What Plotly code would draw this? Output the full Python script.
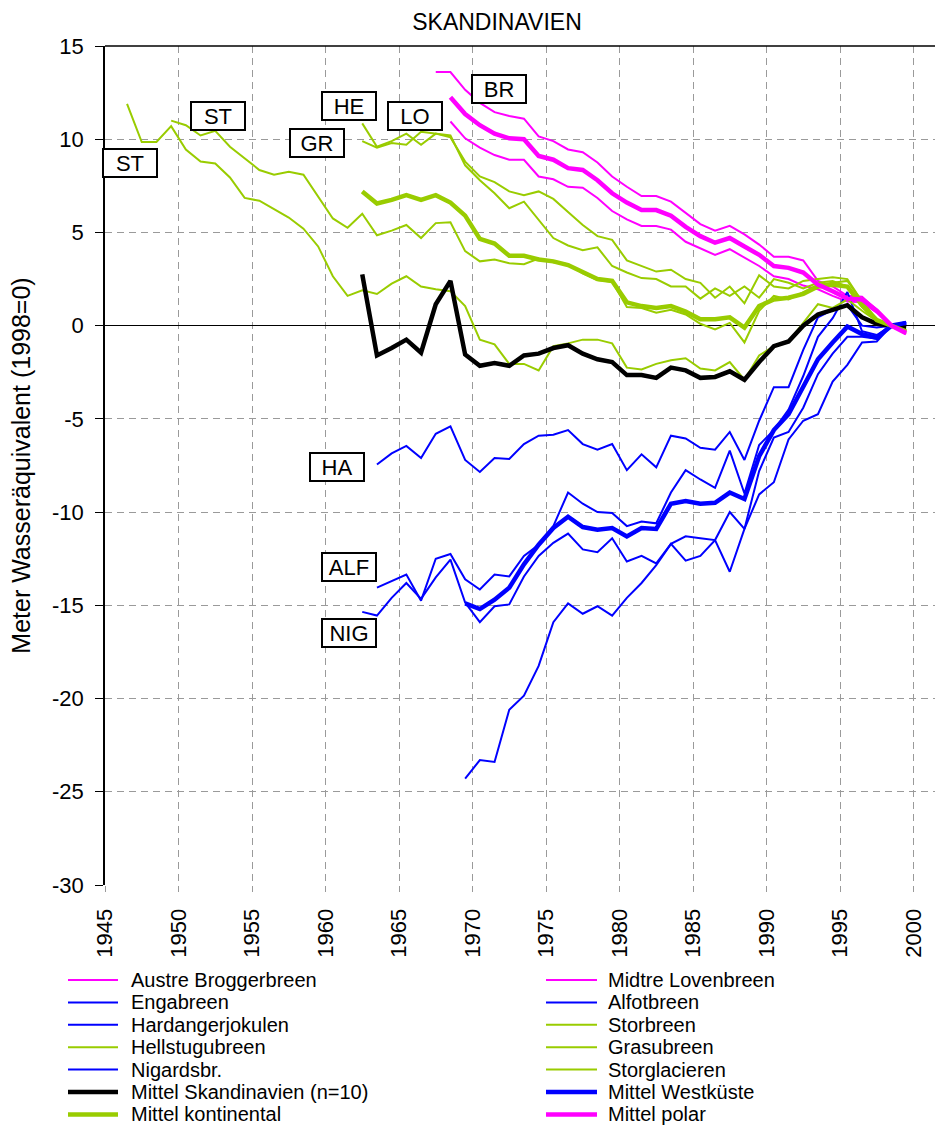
import plotly.graph_objects as go

# Cumulative mass balance of Scandinavian glaciers, metres water equivalent, 1998 = 0

# --- polar (Svalbard) ---
austre_start = 1967
austre = [13.6, 13.6, 12.65, 11.95, 11.45, 11.25, 11.1, 10.15, 9.9, 9.45, 9.3, 8.75,
          8.0, 7.45, 6.95, 6.95, 6.65, 6.05, 5.45, 5.1, 5.35, 4.9, 4.35, 3.7, 3.7, 3.5,
          2.4, 2.1, 1.6, 1.55, 0.85, 0, -0.3]

midtre_start = 1968
midtre = [10.95, 10.05, 9.55, 9.15, 8.9, 8.9, 8.0, 7.85, 7.45, 7.4, 6.85, 6.15, 5.7,
          5.35, 5.35, 5.15, 4.5, 4.15, 3.8, 4.1, 3.65, 3.2, 2.65, 2.5, 2.15, 1.95, 1.6,
          1.3, 1.25, 0.7, 0, -0.45]

# --- west coast (maritime Norway) ---
engabreen_start = 1969
engabreen = [-24.3, -23.3, -23.4, -20.6, -19.85, -18.25, -15.9, -14.9, -15.45, -15.05,
             -15.55, -14.6, -13.8, -12.85, -11.7, -11.3, -11.4, -11.5, -13.2, -10.9,
             -9.05, -8.4, -6.1, -5.1, -4.75, -3.0, -2.1, -0.9, -0.85, 0, 0.15]

alfotbreen_start = 1963
alfotbreen = [-14.05, -13.7, -13.35, -14.75, -12.5, -12.25, -13.6, -14.15, -13.35, -13.45,
              -12.35, -11.75, -10.75, -8.95, -9.55, -10.0, -10.05, -10.75, -10.5, -10.6,
              -8.95, -7.75, -8.25, -8.7, -6.7, -9.0, -6.4, -5.6, -4.5, -2.7, -0.6, 0.4,
              1.8, -0.3, -0.5, 0, 0.2]

hardanger_start = 1963
hardanger = [-7.45, -6.85, -6.45, -7.1, -5.8, -5.4, -7.2, -7.85, -7.1, -7.15, -6.35, -5.9,
             -5.85, -5.6, -6.35, -6.65, -6.35, -7.75, -6.9, -7.6, -5.9, -6.05, -6.55, -6.65,
             -5.7, -7.2, -5.1, -3.3, -3.3, -1.3, 0.45, 0.85, 1.1, 0.0, -0.1, 0, 0.2]

nigards_start = 1962
nigards = [-15.35, -15.55, -14.6, -13.8, -14.65, -13.5, -12.55, -14.85, -15.9, -15.05,
           -14.95, -13.45, -12.35, -11.65, -11.15, -12.0, -12.15, -11.4, -12.65, -12.35,
           -12.75, -11.7, -12.6, -12.35, -11.5, -10.0, -10.9, -7.8, -6.0, -5.7, -4.4,
           -2.6, -1.5, -0.6, -0.6, -0.7, 0, 0.1]

# --- continental ---
storbreen_start = 1949
storbreen = [11.0, 10.75, 10.2, 10.45, 9.6, 8.95, 8.35, 8.1, 8.25, 8.1, 6.95, 5.75, 5.25,
             6.0, 4.85, 5.1, 5.4, 4.7, 5.5, 5.55, 4.0, 3.45, 3.55, 3.35, 3.3, 3.6, 3.4,
             3.3, 2.8, 2.45, 2.35, 1.0, 0.95, 0.7, 0.85, 0.6, 0.1, -0.2, 0.15, -0.9, 0.8,
             1.6, 1.4, 1.8, 2.2, 2.3, 2.4, 1.3, 0.3, 0, -0.3]

hellstugubreen_start = 1962
hellstugubreen = [10.85, 9.6, 9.9, 10.3, 9.7, 10.3, 10.1, 8.8, 8.0, 7.7, 7.2, 7.0, 7.2,
                  6.8, 6.1, 5.4, 4.8, 4.6, 3.5, 3.2, 2.9, 3.0, 2.5, 2.3, 1.5, 2.1, 1.2,
                  2.7, 2.1, 2.0, 2.4, 2.5, 2.6, 2.5, 1.3, 0.35, 0, -0.3]

grasubreen_start = 1962
grasubreen = [9.9, 9.55, 9.8, 9.7, 10.4, 10.3, 10.2, 8.6, 7.8, 7.1, 6.3, 6.65, 5.7, 4.7,
              4.3, 4.05, 4.2, 3.2, 2.85, 2.55, 2.5, 2.1, 2.1, 1.45, 2.0, 1.6, 2.1, 1.5,
              2.5, 2.3, 2.0, 2.3, 2.4, 2.1, 1.0, 0.3, 0, -0.2]

storglacieren_start = 1946
storglacieren = [11.9, 9.85, 9.85, 10.7, 9.45, 8.8, 8.7, 7.95, 6.85, 6.7, 6.25, 5.8, 5.2,
                 4.25, 2.65, 1.6, 1.9, 1.7, 2.25, 2.65, 2.1, 1.95, 1.85, 1.05, -0.75, -1.0,
                 -2.05, -2.05, -2.4, -1.1, -0.95, -0.75, -0.75, -0.95, -2.25, -2.35, -2.05,
                 -1.85, -1.75, -2.3, -2.4, -1.95, -2.9, -1.6, -1.1, -0.85, 0.15, 1.15, 0.95,
                 1.4, 0.8, 0.25, 0, -0.4]

# --- regional means ---
mittel_skand_start = 1962
mittel_skand = [2.75, -1.6, -1.2, -0.75, -1.45, 1.15, 2.4, -1.55, -2.15, -2.0, -2.15, -1.6,
                -1.5, -1.2, -1.05, -1.5, -1.8, -1.95, -2.65, -2.65, -2.8, -2.25, -2.4, -2.8,
                -2.75, -2.45, -2.9, -1.95, -1.1, -0.85, 0.0, 0.6, 0.85, 1.1, 0.45, 0.1, 0,
                -0.1]

mittel_west_start = 1969
mittel_west = [-14.9, -15.2, -14.7, -14.05, -12.8, -11.75, -10.85, -10.25, -10.8, -10.95,
               -10.85, -11.3, -10.85, -10.9, -9.55, -9.4, -9.55, -9.5, -8.95, -9.3, -7.0,
               -5.6, -4.75, -3.25, -1.8, -0.9, -0.05, -0.45, -0.65, 0, 0.15]

mittel_kont_start = 1962
mittel_kont = [7.2, 6.55, 6.75, 7.0, 6.75, 7.0, 6.6, 5.9, 4.65, 4.4, 3.75, 3.75, 3.55, 3.45,
               3.25, 2.9, 2.5, 2.4, 1.25, 1.05, 0.95, 1.05, 0.75, 0.35, 0.35, 0.45, -0.1,
               1.05, 1.4, 1.5, 1.7, 2.1, 2.2, 2.1, 1.1, 0.3, 0, -0.3]

mittel_polar_start = 1968
mittel_polar = [12.25, 11.35, 10.75, 10.3, 10.05, 10.0, 9.1, 8.9, 8.45, 8.35, 7.8, 7.1, 6.6,
                6.2, 6.2, 5.9, 5.3, 4.8, 4.45, 4.7, 4.25, 3.8, 3.2, 3.1, 2.85, 2.2, 1.85,
                1.45, 1.4, 0.8, 0, -0.4]

# axis ticks
x_tick_years = [1945, 1950, 1955, 1960, 1965, 1970, 1975, 1980, 1985, 1990, 1995, 2000]
y_tick_values = [-30, -25, -20, -15, -10, -5, 0, 5, 10, 15]
y_tick_labels = ["-30", "-25", "-20", "-15", "-10", "-5", "0", "5", "10", "15"]

# glacier short labels: (text, year position, value position)
short_labels = [
    ("ST", 1946.2, 8.75), ("ST", 1952.2, 11.27), ("HE", 1961.1, 11.76),
    ("GR", 1958.9, 9.81), ("LO", 1965.6, 11.24), ("BR", 1971.3, 12.70),
    ("HA", 1960.3, -7.56), ("ALF", 1961.1, -12.92), ("NIG", 1961.1, -16.46),
]

MAGENTA = "#FF00FF"
BLUE = "#0000FF"
GREEN = "#99CC00"
BLACK = "#000000"
THIN = 2
THICK = 4.5
FONT = "Liberation Sans, Arial, sans-serif"

series = [
    ("Austre Broggerbreen", austre_start, austre, MAGENTA, THIN),
    ("Midtre Lovenbreen", midtre_start, midtre, MAGENTA, THIN),
    ("Engabreen", engabreen_start, engabreen, BLUE, THIN),
    ("Alfotbreen", alfotbreen_start, alfotbreen, BLUE, THIN),
    ("Hardangerjokulen", hardanger_start, hardanger, BLUE, THIN),
    ("Storbreen", storbreen_start, storbreen, GREEN, THIN),
    ("Hellstugubreen", hellstugubreen_start, hellstugubreen, GREEN, THIN),
    ("Grasubreen", grasubreen_start, grasubreen, GREEN, THIN),
    ("Nigardsbr.", nigards_start, nigards, BLUE, THIN),
    ("Storglacieren", storglacieren_start, storglacieren, GREEN, THIN),
    ("Mittel Skandinavien (n=10)", mittel_skand_start, mittel_skand, BLACK, THICK),
    ("Mittel Westküste", mittel_west_start, mittel_west, BLUE, THICK),
    ("Mittel kontinental", mittel_kont_start, mittel_kont, GREEN, THICK),
    ("Mittel polar", mittel_polar_start, mittel_polar, MAGENTA, THICK),
]

fig = go.Figure()
for name, start, vals, color, width in series:
    fig.add_trace(go.Scatter(
        x=list(range(start, start + len(vals))), y=vals, mode="lines", name=name,
        line=dict(color=color, width=width), showlegend=False,
    ))

# figure geometry (pixels)
W, H = 935, 1127
M_L, M_R, M_T, M_B = 105, 0, 46, 242
PLOT_W = W - M_L - M_R
PLOT_H = H - M_T - M_B


def px_x(px):
    return (px - M_L) / PLOT_W


def px_y(py):
    return (H - M_B - py) / PLOT_H


annotations = []
for text, xv, yv in short_labels:
    annotations.append(dict(
        x=xv, y=yv, xref="x", yref="y", text=text, showarrow=False,
        font=dict(family=FONT, size=22, color="black"),
        bgcolor="white", bordercolor="black", borderwidth=2, borderpad=1,
        width=50, height=24,
    ))

# two-column legend below the plot, row-major order
shapes = []
row0, row_step = 980, 22.4
cols = [(68, 118, 129), (546, 597, 606)]
for i, (name, start, vals, color, width) in enumerate(series):
    r, c = divmod(i, 2)
    yc = row0 + r * row_step
    x0, x1, xt = cols[c]
    shapes.append(dict(type="line", xref="paper", yref="paper",
                       x0=px_x(x0), x1=px_x(x1), y0=px_y(yc), y1=px_y(yc),
                       line=dict(color=color, width=width)))
    annotations.append(dict(
        x=px_x(xt), y=px_y(yc), xref="paper", yref="paper", text=name,
        showarrow=False, xanchor="left", yanchor="middle",
        font=dict(family=FONT, size=20, color="black"),
    ))

# solid frame line along the top of the plot area
shapes.append(dict(type="line", xref="paper", yref="paper", x0=0, x1=1, y0=1, y1=1,
                   line=dict(color="black", width=1.5)))

fig.update_layout(
    width=W, height=H,
    margin=dict(l=M_L, r=M_R, t=M_T, b=M_B, autoexpand=False),
    paper_bgcolor="white", plot_bgcolor="white",
    font=dict(family=FONT, color="black"),
    title=dict(text="SKANDINAVIEN", x=497 / W, xref="container", xanchor="center",
               y=1 - 22 / H, yref="container", yanchor="middle",
               font=dict(family=FONT, size=23, color="black")),
    annotations=annotations, shapes=shapes,
    xaxis=dict(
        range=[1944.5, 1944.5 + PLOT_W / 14.70],
        tickvals=[y - 0.5 for y in x_tick_years],
        ticktext=[str(y) for y in x_tick_years],
        tickangle=-90, tickfont=dict(family=FONT, size=22, color="black"),
        ticklabelstandoff=8,
        showgrid=True, gridcolor="#9a9a9a", gridwidth=1, griddash="7px,5px",
        zeroline=False, showline=False,
        ticks="outside", ticklen=6, tickcolor="#9a9a9a",
    ),
    yaxis=dict(
        range=[-30, 15], tickvals=y_tick_values, ticktext=y_tick_labels,
        tickfont=dict(family=FONT, size=22, color="black"),
        ticklabelstandoff=7,
        showgrid=True, gridcolor="#9a9a9a", gridwidth=1, griddash="7px,5px",
        zeroline=True, zerolinecolor="black", zerolinewidth=1.3,
        showline=True, linecolor="black", linewidth=1.5,
        ticks="outside", ticklen=8, tickcolor="black",
        title=dict(text="Meter Wasseräquivalent (1998=0)", standoff=14,
                   font=dict(family=FONT, size=25, color="black")),
    ),
)

fig.write_html("out.html")
